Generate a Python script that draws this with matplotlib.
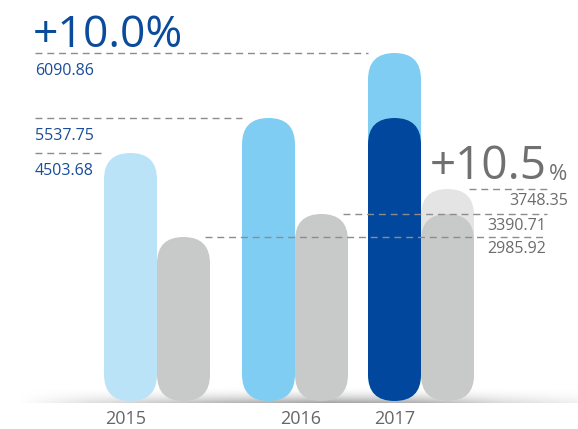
import numpy as np
import matplotlib
matplotlib.use("Agg")
import matplotlib.pyplot as plt
from matplotlib.patches import FancyBboxPatch

plt.rcParams['font.family'] = ['Open Sans', 'DejaVu Sans']

# data
years = ['2015', '2016', '2017']
blue_values = [4503.68, 5537.75, 6090.86]
gray_values = [2985.92, 3390.71, 3748.35]
blue_growth = '+10.0%'
gray_growth = '+10.5'
# visual bar heights (the infographic is not drawn to a linear scale)
blue_heights = [248, 283, 348]
gray_heights = [164, 187, 212]

W, H = 578, 429
BASE = 28           # bottom of the bars
BW = 53             # bar width
blue_left = [104, 242, 368]
year_x = [126, 301, 395]

c_blue = ['#bbe3f7', '#7fcdf2', '#7fcdf2']
c_dark = '#00479d'
c_gray = '#c8c9c9'
c_lgray = '#e4e4e4'
c_text_blue = '#1a4d98'
c_text_gray = '#6b6b6b'

fig = plt.figure(figsize=(W / 100, H / 100), dpi=100)
ax = fig.add_axes([0, 0, 1, 1])
ax.set_xlim(0, W)
ax.set_ylim(0, H)
ax.axis('off')


def pill(x, h, color, z=2):
    p = FancyBboxPatch((x, BASE), BW, h,
                       boxstyle=f"round,pad=0,rounding_size={BW / 2}",
                       fc=color, ec='none', zorder=z)
    ax.add_patch(p)


# floor shadow
xs = np.linspace(18, W, 400)
prof_x = np.interp(xs, [18, 90, 230, 330, 420, 500, 578],
                   [0.0, 0.25, 0.6, 0.75, 0.65, 0.3, 0.12])
ys = np.linspace(0, 1, 40)
prof_y = ys ** 2.0
alpha = prof_y[:, None] * prof_x[None, :]
img = np.zeros((40, 400, 4))
img[..., :3] = 0.52
img[..., 3] = alpha
ax.imshow(img, extent=(18, W, H - 403, H - 386), origin='upper',
          aspect='auto', zorder=1, interpolation='bilinear')

# bars
for i in range(3):
    pill(blue_left[i], blue_heights[i], c_blue[i])
    gc = c_lgray if i == 2 else c_gray
    pill(blue_left[i] + BW, gray_heights[i], gc)
# 2017 overlays show previous year
pill(blue_left[2], blue_heights[1], c_dark, z=3)
pill(blue_left[2] + BW, gray_heights[1], c_gray, z=3)

dash = dict(color='#8c8c8c', lw=1.0, linestyle=(0, (5, 3.5)), zorder=5)

# left value labels (blue)
for i in range(3):
    top = BASE + blue_heights[i]
    ax.plot([35, blue_left[i]], [top, top], **dash)
    ax.text(35, top - 22, f"{blue_values[i]:.2f}", color=c_text_blue,
            fontsize=11.5, ha='left', va='baseline')

# right value labels (gray)
right_x = [546, 546, 568]
for i in range(3):
    top = BASE + gray_heights[i]
    x0 = blue_left[i] + 2 * BW - 5
    ax.plot([x0, 547], [top, top], **dash)
    ax.text(right_x[i], top - 16, f"{gray_values[i]:.2f}", color=c_text_gray,
            fontsize=11.5, ha='right', va='baseline')

ax.text(33, H - 47, blue_growth, color='#0b4b9b', fontsize=32,
        ha='left', va='baseline')
ax.text(430, H - 179, gray_growth, color='#707070', fontsize=33,
        ha='left', va='baseline')
ax.text(549, H - 180, '%', color='#707070', fontsize=16,
        ha='left', va='baseline')

for x, y in zip(year_x, years):
    ax.text(x, 0.5, y, color='#666666', fontsize=13,
            ha='center', va='bottom')

fig.savefig('out.png', dpi=100)
